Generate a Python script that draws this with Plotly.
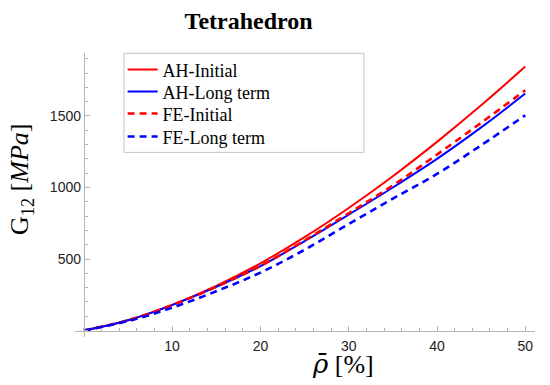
import plotly.graph_objects as go

# Data
rho = [0, 5, 10, 15, 20, 25, 30, 35, 40, 45, 50]
ah_initial = [0, 72, 180, 312, 470, 653, 857, 1079, 1319, 1574, 1845]
ah_long = [0, 72, 178, 305, 450, 625, 810, 1000, 1200, 1420, 1657]
fe_initial = [0, 72, 178, 306, 452, 630, 820, 1015, 1230, 1452, 1680]
fe_long = [0, 66, 160, 275, 405, 565, 745, 922, 1095, 1295, 1505]

x_ticks = [10, 20, 30, 40, 50]
y_ticks = [500, 1000, 1500]

RED = "#ff0000"
BLUE = "#0000ff"

X_RANGE = [-1.0, 51.1]
Y_RANGE = [-45, 1940]

SERIF = "Liberation Serif, Times New Roman, serif"

fig = go.Figure()
fig.add_trace(go.Scatter(x=rho, y=ah_initial, mode="lines", name="AH-Initial", legend="legend",
                         line=dict(color=RED, width=2, shape="spline")))
fig.add_trace(go.Scatter(x=rho, y=ah_long, mode="lines", name="AH-Long term", legend="legend2",
                         line=dict(color=BLUE, width=2, shape="spline")))
fig.add_trace(go.Scatter(x=rho, y=fe_initial, mode="lines", name="FE-Initial", legend="legend3",
                         line=dict(color=RED, width=2.6, dash="7px,5px", shape="spline")))
fig.add_trace(go.Scatter(x=rho, y=fe_long, mode="lines", name="FE-Long term", legend="legend4",
                         line=dict(color=BLUE, width=2.6, dash="7px,5px", shape="spline")))

axis_color = "#b4b4b4"
tick_font = dict(family="Liberation Sans, Arial, sans-serif", size=14, color="#222222")

def leg(y):
    return dict(x=0.1035, xanchor="left", y=y, yanchor="top",
                bgcolor="rgba(0,0,0,0)", borderwidth=0,
                font=dict(family=SERIF, size=18, color="black"))

fig.update_layout(
    width=550, height=385,
    margin=dict(l=75, r=15, t=53, b=48),
    paper_bgcolor="white", plot_bgcolor="white",
    title=dict(text="<b>Tetrahedron</b>", x=0.452, xanchor="center", xref="container",
               y=0.9465, yanchor="middle", yref="container",
               font=dict(family=SERIF, size=24, color="black")),
    showlegend=True,
    legend=leg(1.006),
    legend2=leg(0.9285),
    legend3=leg(0.851),
    legend4=leg(0.770),
    xaxis=dict(range=X_RANGE, domain=[0, 1], anchor="free",
               position=(0 - Y_RANGE[0]) / (Y_RANGE[1] - Y_RANGE[0]),
               showline=True, linecolor=axis_color, linewidth=1,
               showgrid=False, zeroline=False,
               tickmode="array", tickvals=x_ticks, ticktext=[str(v) for v in x_ticks],
               ticks="inside", ticklen=5, tickcolor=axis_color, tickwidth=1,
               ticklabelstandoff=3,
               minor=dict(tickmode="linear", tick0=0, dtick=2, ticks="inside",
                          ticklen=3, tickcolor=axis_color, tickwidth=1, showgrid=False),
               tickfont=tick_font),
    yaxis=dict(range=Y_RANGE, domain=[0, 1], anchor="free",
               position=(0 - X_RANGE[0]) / (X_RANGE[1] - X_RANGE[0]),
               showline=True, linecolor=axis_color, linewidth=1,
               showgrid=False, zeroline=False,
               tickmode="array", tickvals=y_ticks, ticktext=[str(v) for v in y_ticks],
               ticks="inside", ticklen=5, tickcolor=axis_color, tickwidth=1,
               minor=dict(tickmode="linear", tick0=0, dtick=100, ticks="inside",
                          ticklen=3, tickcolor=axis_color, tickwidth=1, showgrid=False),
               tickfont=tick_font),
    shapes=[dict(type="rect", xref="paper", yref="paper",
                 x0=0.1065, x1=0.628, y0=0.650, y1=0.999,
                 line=dict(color="#c4c4c4", width=1), fillcolor="rgba(0,0,0,0)",
                 layer="below")],
    annotations=[
        dict(text="<span style=\"font-family:'DejaVu Serif'\"><i>ρ̄</i></span> [%]",
             xref="paper", yref="paper",
             x=0.5826, y=-0.0961, xanchor="center", yanchor="middle", showarrow=False,
             font=dict(family=SERIF, size=26, color="black")),
        dict(text="G<sub>12</sub> [<i>MPa</i>]", xref="paper", yref="paper",
             x=-0.1163, y=0.555, xanchor="center", yanchor="middle", showarrow=False,
             textangle=-90,
             font=dict(family=SERIF, size=26, color="black")),
    ],
)

fig.write_html("out.html", config={"displayModeBar": False},
               post_script="document.body.style.margin='0';document.body.style.padding='0';")
